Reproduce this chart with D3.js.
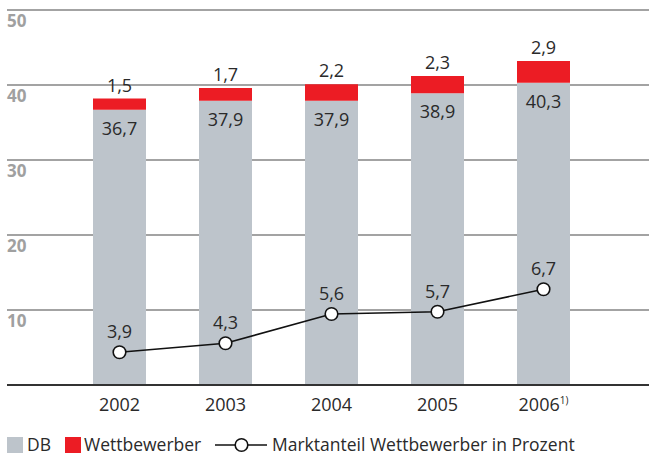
<!DOCTYPE html>
<html lang="de">
<head>
<meta charset="utf-8">
<script src="https://d3js.org/d3.v7.min.js"></script>
<style>
  body { margin: 0; background: #fff; }
  text { font-family: "Open Sans", sans-serif; }
</style>
</head>
<body>
<svg width="649" height="457"></svg>
<script>
// data
var years = ["2002", "2003", "2004", "2005", "2006"];
var dbValues = [36.7, 37.9, 37.9, 38.9, 40.3];
var competitorValues = [1.5, 1.7, 2.2, 2.3, 2.9];
var shareValues = [3.9, 4.3, 5.6, 5.7, 6.7];
var yTicks = [10, 20, 30, 40, 50];

var svg = d3.select("svg");
var fmt = function(v){ return d3.format(".1f")(v).replace(".", ","); };

var x = d3.scaleBand().domain(years).range([66.5, 596.5]).paddingInner(0.5).paddingOuter(0.25);
var y = d3.scaleLinear().domain([0, 50]).range([385, 10]);
// market share uses its own scale
var yShare = d3.scaleLinear().domain([0, 10]).range([440, 215]);

// grid
svg.selectAll(".grid").data(yTicks).enter().append("line")
  .attr("x1", 7).attr("x2", 649)
  .attr("y1", d => y(d)).attr("y2", d => y(d))
  .attr("stroke", "#a3a3a3").attr("stroke-width", 2);

svg.selectAll(".ylab").data(yTicks).enter().append("text")
  .attr("x", 7).attr("y", d => y(d) + 17)
  .attr("font-size", 17).attr("font-weight", "bold").attr("fill", "#a0a0a0")
  .text(d => d);

// bars
var g = svg.selectAll(".bar").data(years).enter().append("g");
g.append("rect")
  .attr("x", d => x(d)).attr("width", x.bandwidth())
  .attr("y", (d, i) => y(dbValues[i])).attr("height", (d, i) => y(0) - y(dbValues[i]))
  .attr("fill", "#bdc4cb");
g.append("rect")
  .attr("x", d => x(d)).attr("width", x.bandwidth())
  .attr("y", (d, i) => y(dbValues[i] + competitorValues[i]))
  .attr("height", (d, i) => y(dbValues[i]) - y(dbValues[i] + competitorValues[i]))
  .attr("fill", "#ec1c24");
g.append("text")
  .attr("x", d => x(d) + x.bandwidth() / 2)
  .attr("y", (d, i) => y(dbValues[i]) + 25)
  .attr("text-anchor", "middle").attr("font-size", 18).attr("fill", "#2a2a2a")
  .text((d, i) => fmt(dbValues[i]));
g.append("text")
  .attr("x", d => x(d) + x.bandwidth() / 2)
  .attr("y", (d, i) => y(dbValues[i] + competitorValues[i]) - 7)
  .attr("text-anchor", "middle").attr("font-size", 18).attr("fill", "#2a2a2a")
  .text((d, i) => fmt(competitorValues[i]));

// baseline
svg.append("line").attr("x1", 7).attr("x2", 649).attr("y1", y(0)).attr("y2", y(0))
  .attr("stroke", "#333").attr("stroke-width", 2);

// x labels
var xl = svg.selectAll(".xlab").data(years).enter().append("text")
  .attr("x", d => x(d) + x.bandwidth() / 2).attr("y", 411)
  .attr("text-anchor", "middle").attr("font-size", 18).attr("fill", "#2a2a2a")
  .text(d => d);
xl.filter(d => d == "2006").append("tspan")
  .attr("font-size", 10).attr("dy", -7).text("1)");

// line
var line = d3.line().x((d, i) => x(years[i]) + x.bandwidth() / 2).y(d => yShare(d));
svg.append("path").datum(shareValues).attr("d", line)
  .attr("fill", "none").attr("stroke", "#111").attr("stroke-width", 1.6);
svg.selectAll(".pt").data(shareValues).enter().append("circle")
  .attr("cx", (d, i) => x(years[i]) + x.bandwidth() / 2).attr("cy", d => yShare(d))
  .attr("r", 6.3).attr("fill", "#fff").attr("stroke", "#111").attr("stroke-width", 1.6);
svg.selectAll(".ptlab").data(shareValues).enter().append("text")
  .attr("x", (d, i) => x(years[i]) + x.bandwidth() / 2).attr("y", d => yShare(d) - 14)
  .attr("text-anchor", "middle").attr("font-size", 18).attr("fill", "#2a2a2a")
  .text(d => fmt(d));

// legend
var lg = svg.append("g").attr("transform", "translate(0,445)");
lg.append("rect").attr("x", 7).attr("y", -8).attr("width", 16).attr("height", 16).attr("fill", "#bdc4cb");
lg.append("text").attr("x", 27).attr("y", 6).attr("font-size", 17.5).attr("fill", "#2a2a2a").text("DB");
lg.append("rect").attr("x", 65).attr("y", -8).attr("width", 16).attr("height", 16).attr("fill", "#ec1c24");
lg.append("text").attr("x", 84).attr("y", 6).attr("font-size", 17.5).attr("fill", "#2a2a2a").text("Wettbewerber");
lg.append("line").attr("x1", 215).attr("x2", 267).attr("y1", 0).attr("y2", 0).attr("stroke", "#111").attr("stroke-width", 1.6);
lg.append("circle").attr("cx", 241.5).attr("cy", 0).attr("r", 6.3).attr("fill", "#fff").attr("stroke", "#111").attr("stroke-width", 1.6);
lg.append("text").attr("x", 272).attr("y", 6).attr("font-size", 17.5).attr("fill", "#2a2a2a").text("Marktanteil Wettbewerber in Prozent");
</script>
</body>
</html>
